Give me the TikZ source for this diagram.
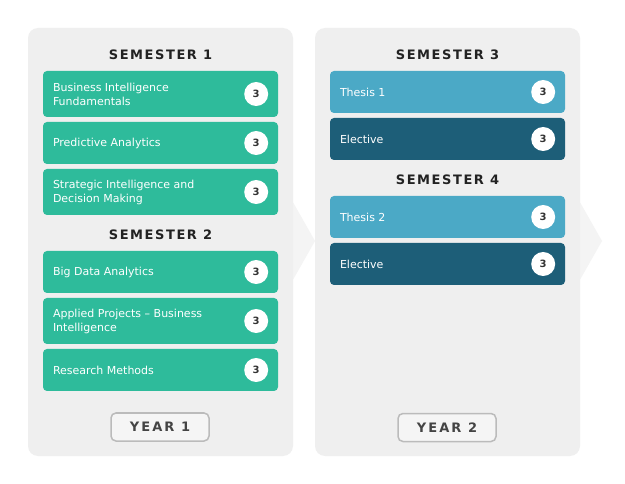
\documentclass[tikz,border=0pt]{standalone}
\usepackage{fontspec}
\setmainfont{DejaVu Sans}
\newfontfamily\hdrfont[LetterSpace=12]{DejaVu Sans}
\newfontfamily\yrfont[LetterSpace=16]{DejaVu Sans}
\definecolor{panelbg}{HTML}{EFEFEF}
\definecolor{chevbg}{HTML}{F4F4F4}
\definecolor{teal}{HTML}{2EBB9B}
\definecolor{thesis}{HTML}{4BA9C6}
\definecolor{elect}{HTML}{1D5E78}
\definecolor{hdrcol}{HTML}{222222}
\definecolor{yrcol}{HTML}{444444}
\definecolor{yrborder}{HTML}{BBBBBB}
\definecolor{numcol}{HTML}{333333}
\tikzset{
  panel/.style={fill=panelbg, draw=none, rounded corners=10pt},
  chev/.style={fill=chevbg, draw=none},
  course/.style={rectangle, rounded corners=4pt, minimum width=235pt, inner sep=0pt, draw=none},
  ctext/.style={anchor=west, align=left, text=white, inner sep=0pt, yshift=-0.8pt, font=\fontsize{11}{14}\selectfont},
  credit/.style={circle, fill=white, minimum size=24pt, inner sep=0pt, text=numcol, font=\fontsize{10}{12}\selectfont\bfseries},
  semhdr/.style={inner sep=0pt, text=hdrcol, font=\hdrfont\fontsize{13}{15}\selectfont\bfseries},
  yearbox/.style={rectangle, rounded corners=5pt, draw=yrborder, line width=1.5pt, fill=panelbg!60!white, minimum width=98pt, minimum height=28pt, inner sep=0pt, text=yrcol, font=\yrfont\fontsize{13}{15}\selectfont\bfseries},
}
\begin{document}
\begin{tikzpicture}[x=1pt,y=-1pt]
\useasboundingbox (0,0) rectangle (625,484);
\fill[white] (0,0) rectangle (625,484);
% chevrons
\fill[chev] (290,197) -- (315,241) -- (290,285) -- cycle;
\fill[chev] (577,197) -- (602,241) -- (577,285) -- cycle;
% panels
\fill[panel] (28,28) rectangle (293,456);
\fill[panel] (315,28) rectangle (580,456);

% Year 1
\node[semhdr] (s1) at (160.5,54.8) {SEMESTER 1};
\node[course, fill=teal, minimum height=46pt] (b1) at (160.5,94) {};
\node[ctext] (b1t) at ([xshift=10pt]b1.west) {Business Intelligence\\Fundamentals};
\node[credit] (b1c) at ([xshift=-22pt]b1.east) {3};
\node[course, fill=teal, minimum height=42pt] (b2) at (160.5,143) {};
\node[ctext] (b2t) at ([xshift=10pt]b2.west) {Predictive Analytics};
\node[credit] (b2c) at ([xshift=-22pt]b2.east) {3};
\node[course, fill=teal, minimum height=46pt] (b3) at (160.5,192) {};
\node[ctext] (b3t) at ([xshift=10pt]b3.west) {Strategic Intelligence and\\Decision Making};
\node[credit] (b3c) at ([xshift=-22pt]b3.east) {3};

\node[semhdr] (s2) at (160.5,234.8) {SEMESTER 2};
\node[course, fill=teal, minimum height=42pt] (b4) at (160.5,272) {};
\node[ctext] (b4t) at ([xshift=10pt]b4.west) {Big Data Analytics};
\node[credit] (b4c) at ([xshift=-22pt]b4.east) {3};
\node[course, fill=teal, minimum height=46pt] (b5) at (160.5,321) {};
\node[ctext] (b5t) at ([xshift=10pt]b5.west) {Applied Projects -- Business\\Intelligence};
\node[credit] (b5c) at ([xshift=-22pt]b5.east) {3};
\node[course, fill=teal, minimum height=42pt] (b6) at (160.5,370) {};
\node[ctext] (b6t) at ([xshift=10pt]b6.west) {Research Methods};
\node[credit] (b6c) at ([xshift=-22pt]b6.east) {3};

\node[yearbox] (y1) at (160,427) {YEAR 1};

% Year 2
\node[semhdr] (s3) at (447.5,54.8) {SEMESTER 3};
\node[course, fill=thesis, minimum height=42pt] (c1) at (447.5,92) {};
\node[ctext] (c1t) at ([xshift=10pt]c1.west) {Thesis 1};
\node[credit] (c1c) at ([xshift=-22pt]c1.east) {3};
\node[course, fill=elect, minimum height=42pt] (c2) at (447.5,139) {};
\node[ctext] (c2t) at ([xshift=10pt]c2.west) {Elective};
\node[credit] (c2c) at ([xshift=-22pt]c2.east) {3};

\node[semhdr] (s4) at (447.5,179.8) {SEMESTER 4};
\node[course, fill=thesis, minimum height=42pt] (c3) at (447.5,217) {};
\node[ctext] (c3t) at ([xshift=10pt]c3.west) {Thesis 2};
\node[credit] (c3c) at ([xshift=-22pt]c3.east) {3};
\node[course, fill=elect, minimum height=42pt] (c4) at (447.5,264) {};
\node[ctext] (c4t) at ([xshift=10pt]c4.west) {Elective};
\node[credit] (c4c) at ([xshift=-22pt]c4.east) {3};

\node[yearbox] (y2) at (447,427.5) {YEAR 2};
\end{tikzpicture}
\end{document}
